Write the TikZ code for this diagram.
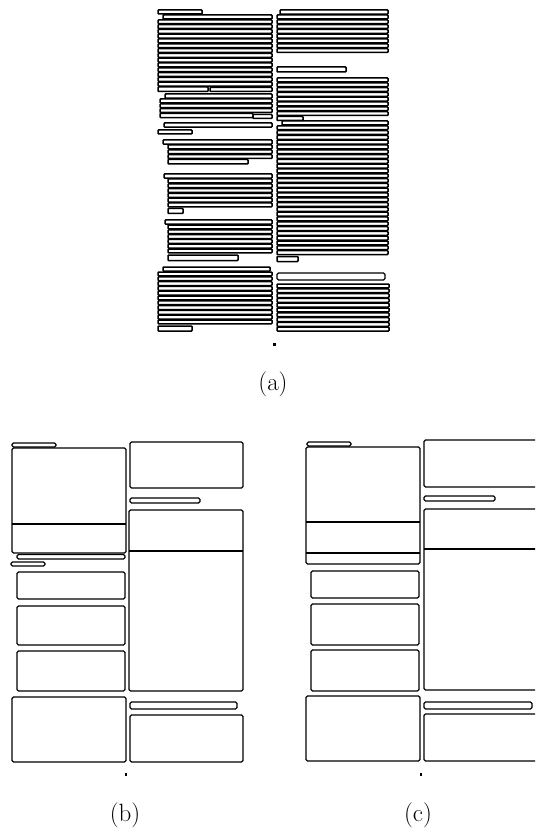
\documentclass[tikz,border=0pt]{standalone}
\usepackage{tikz}
\newcommand\lineblock[4]{%
  \foreach \k in {1,...,#4} {\draw[tl] (#1,{#3+(\k-1)*4.8}) rectangle (#2,{#3+(\k-1)*4.8+3.9});}}
\begin{document}
\begin{tikzpicture}[x=1pt,y=-1pt,
  tl/.style={draw,line width=1.5pt,rounded corners=0.8pt},
  bx/.style={draw,line width=1.1pt,rounded corners=1.5pt},
  bar/.style={draw,line width=1.2pt,rounded corners=1.5pt},
  divl/.style={line width=1.9pt},
  dotm/.style={fill=black},
  lab/.style={font=\fontsize{25}{30}\selectfont}]
\useasboundingbox (0,0) rectangle (535,834);
\clip (0,0) rectangle (535,834);
% ================= panel (a) =================
% left column
\draw[tl] (158,10) rectangle (202,14);
\draw[tl] (163,15) rectangle (272,19);
\lineblock{158}{272}{19.8}{14}
\draw[tl] (158,87) rectangle (208,91.5);
\draw[tl] (210,87.5) rectangle (272,91.5);
\draw[tl] (165,94) rectangle (272,98.2);
\lineblock{160}{272}{99}{3}
\draw[tl] (160,113.4) rectangle (253,117.6);
\draw[tl] (253,114.5) rectangle (272,118.5);
\draw[tl] (164,123) rectangle (272,127.2);
\draw[tl] (158,130) rectangle (192,134);
\draw[tl] (163,140) rectangle (272,144.2);
\lineblock{168}{272}{145}{3}
\draw[tl] (168,159.4) rectangle (248,164);
\draw[tl] (164,174) rectangle (272,178.2);
\lineblock{168}{272}{179}{6}
\draw[tl] (168,208.5) rectangle (183,213.5);
\draw[tl] (165,220) rectangle (272,224.2);
\lineblock{168}{272}{225}{6}
\draw[tl] (168,255) rectangle (238,260.5);
\draw[tl] (163,267) rectangle (270,271.2);
\lineblock{158}{272}{272}{11}
\draw[tl] (158,326) rectangle (192,331);
% right column
\draw[tl] (280,10) rectangle (388,14.2);
\lineblock{277}{388}{15}{8}
\draw[tl] (277,67) rectangle (346,72);
\lineblock{277}{388}{78}{8}
\draw[tl] (277,116.5) rectangle (303,120.5);
\draw[tl] (282,121) rectangle (388,125);
\lineblock{277}{388}{125.8}{27}
\draw[tl] (277,256.5) rectangle (298,261.5);
\draw[bar] (277,273) rectangle (385,280);
\lineblock{277}{389}{284}{10}
\fill[dotm] (273,342.5) rectangle (275.5,346);
\node[lab] (la) at (273,384) {(a)};
% ================= panel (b) =================
\draw[bar] (12,443) rectangle (56,447);
\draw[bx] (12,448) rectangle (126,553);
\draw[divl] (12,524) -- (126,524);
\draw[bar] (17,554.5) rectangle (125,559);
\draw[bar] (11,562) rectangle (45,566);
\draw[bx] (17,572) rectangle (125,599);
\draw[bx] (17,606) rectangle (125,645);
\draw[bx] (17,651) rectangle (125,691);
\draw[bx] (12,697) rectangle (126,762);
\draw[bx] (130,442) rectangle (243,488);
\draw[bar] (130,498) rectangle (200,503);
\draw[bx] (129,510) rectangle (243,691);
\draw[divl] (129,551) -- (243,551);
\draw[bar] (130,702) rectangle (237,709);
\draw[bx] (130,715) rectangle (243,762);
\fill[dotm] (125.2,772.5) rectangle (127.2,775.5);
\node[lab] (lb) at (125,815) {(b)};
% ================= panel (c) =================
\draw[bar] (307,442) rectangle (351,446);
\draw[bx] (306,447) rectangle (420,564);
\draw[divl] (306,522) -- (420,522);
\draw[divl] (306,553) -- (420,553);
\draw[bx] (311,571) rectangle (419,598);
\draw[bx] (311,604) rectangle (419,645);
\draw[bx] (311,650) rectangle (419,691);
\draw[bx] (306,696) rectangle (420,761);
\draw[bx] (424,440) rectangle (540,487);
\draw[bar] (424,496) rectangle (495,501);
\draw[bx] (424,509) rectangle (540,690);
\draw[divl] (424,549) -- (540,549);
\draw[bar] (424,702) rectangle (532,709);
\draw[bx] (424,714) rectangle (540,761);
\fill[dotm] (420.2,772.5) rectangle (422.2,775.5);
\node[lab] (lc) at (418,815) {(c)};
\end{tikzpicture}
\end{document}
